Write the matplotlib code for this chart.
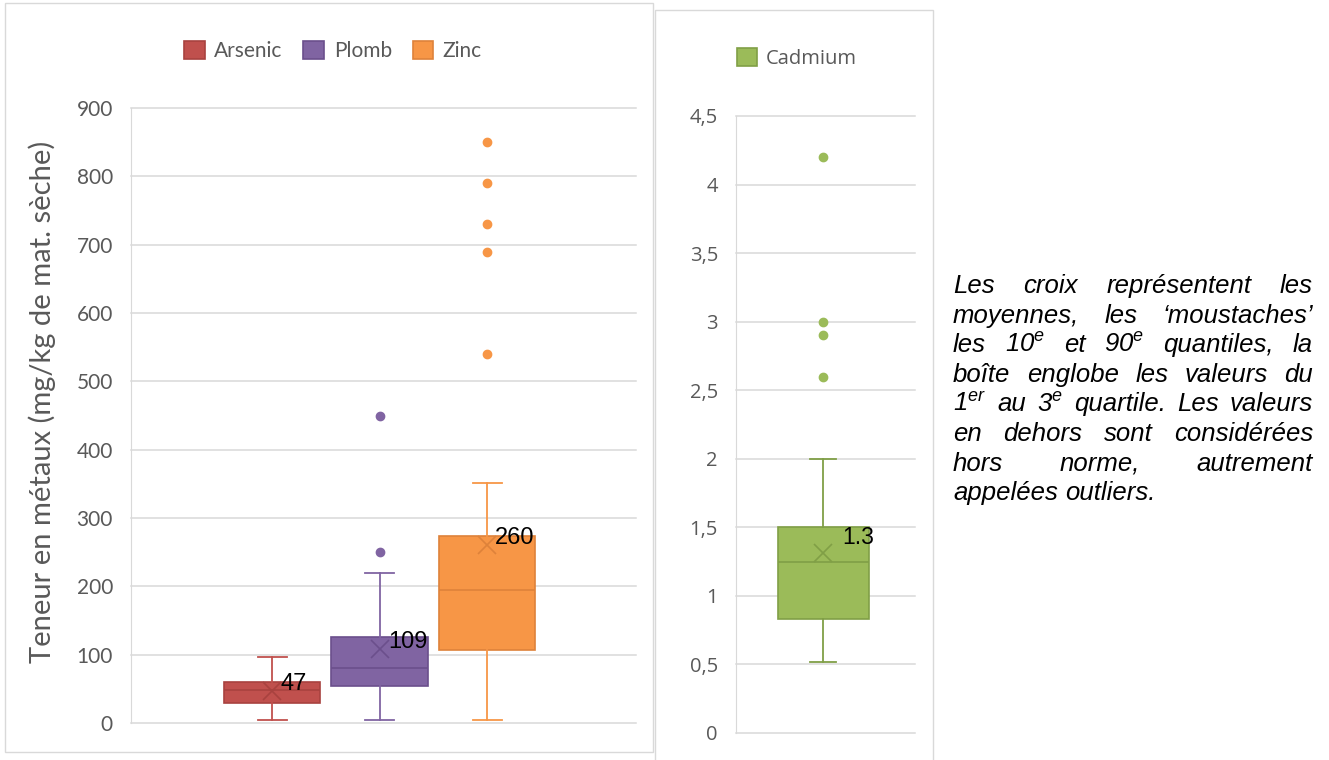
import matplotlib
matplotlib.use('Agg')
import matplotlib.pyplot as plt
from matplotlib.patches import Rectangle

plt.rcParams['mathtext.fontset'] = 'custom'
plt.rcParams['mathtext.it'] = 'Liberation Sans:italic'
plt.rcParams['mathtext.rm'] = 'Liberation Sans:italic'

# left chart: Arsenic, Plomb, Zinc (mg/kg)
metals = ['Arsenic', 'Plomb', 'Zinc']
whis_lo = [4, 4, 4]
q1 = [30, 54, 107]
med = [49, 81, 195]
q3 = [60, 126, 273]
whis_hi = [96, 220, 351]
means = [47, 109, 260]
mean_labels = ['47', '109', '260']
fliers = [[], [250, 450], [540, 690, 730, 790, 850]]
fill_cols = ['#C0504D', '#8064A2', '#F79646']
edge_cols = ['#A8423F', '#6B4F8C', '#DE823A']
left_ticks = [0, 100, 200, 300, 400, 500, 600, 700, 800, 900]

# right chart: Cadmium
cd_stats = dict(whislo=0.52, q1=0.83, med=1.25, q3=1.5, whishi=2.0, mean=1.31,
                fliers=[2.6, 2.9, 3.0, 4.2])
cd_label = '1.3'
cd_fill = '#9BBB59'
cd_edge = '#809F46'
right_ticks = [0, 0.5, 1, 1.5, 2, 2.5, 3, 3.5, 4, 4.5]
right_ticklabels = ['0', '0,5', '1', '1,5', '2', '2,5', '3', '3,5', '4', '4,5']

note_lines = [
    ['Les', 'croix', 'représentent', 'les'],
    ['moyennes,', 'les', '‘moustaches’'],
    ['les', '10$^{e}$', 'et', '90$^{e}$', 'quantiles,', 'la'],
    ['boîte', 'englobe', 'les', 'valeurs', 'du'],
    ['1$^{er}$', 'au', '3$^{e}$', 'quartile.', 'Les', 'valeurs'],
    ['en', 'dehors', 'sont', 'considérées'],
    ['hors', 'norme,', 'autrement'],
    ['appelées', 'outliers.'],
]

W, H = 1329, 760
fig = plt.figure(figsize=(W / 100, H / 100), dpi=100)
grid_col = '#D9D9D9'
txt_col = '#595959'

# panel borders
fig.patches.append(Rectangle((5 / W, 1 - 752 / H), 648 / W, 749 / H, transform=fig.transFigure,
                             fill=False, edgecolor=grid_col, lw=1))
fig.patches.append(Rectangle((655 / W, 1 - 775 / H), 278 / W, 765 / H, transform=fig.transFigure,
                             fill=False, edgecolor=grid_col, lw=1))


def style_axis(ax, font, size):
    ax.set_axisbelow(True)
    ax.grid(axis='y', color=grid_col, lw=1.1)
    for gl in ax.get_ygridlines():
        gl.set_clip_on(False)
    for s in ['top', 'right', 'bottom']:
        ax.spines[s].set_visible(False)
    ax.spines['left'].set_color(grid_col)
    ax.tick_params(axis='y', length=0, pad=13, labelcolor=txt_col, labelsize=size)
    ax.tick_params(axis='x', length=0, labelbottom=False)
    for lab in ax.get_yticklabels():
        lab.set_fontfamily(font)


# ---- left chart
ax = fig.add_axes([131 / W, 37 / H, 505 / W, 615 / H])
handles = []
for i, name in enumerate(metals):
    st = dict(label=name, whislo=whis_lo[i], q1=q1[i], med=med[i], q3=q3[i],
              whishi=whis_hi[i], mean=means[i], fliers=fliers[i])
    res = ax.bxp([st], positions=[i + 1], widths=0.9, capwidths=0.27, patch_artist=True,
                 showmeans=True, manage_ticks=False,
                 boxprops=dict(facecolor=fill_cols[i], edgecolor=edge_cols[i], lw=1.2),
                 medianprops=dict(color=edge_cols[i], lw=1.2),
                 whiskerprops=dict(color=fill_cols[i], lw=1.3),
                 capprops=dict(color=fill_cols[i], lw=1.3),
                 meanprops=dict(marker='x', markersize=13, markeredgecolor=edge_cols[i],
                                markeredgewidth=1.2),
                 flierprops=dict(marker='o', markersize=6, markerfacecolor=fill_cols[i],
                                 markeredgecolor=fill_cols[i]))
    handles.append(res['boxes'][0])
    ax.annotate(mean_labels[i], (i + 1, means[i]), xytext=(6, 5), textcoords='offset points',
                ha='left', va='center', fontsize=17, family='Liberation Sans', color='black')
ax.set_xlim(-0.312, 4.386)
ax.set_ylim(0, 900)
ax.set_yticks(left_ticks)
style_axis(ax, 'Lato', 15)
fig.legend(handles, metals, loc='center', bbox_to_anchor=(333 / W, 1 - 51 / H), ncol=3,
           frameon=False, prop=dict(family='Lato', size=15), labelcolor=txt_col,
           handlelength=1.0, handleheight=1.0, handletextpad=0.45, columnspacing=1.0)
fig.text(42 / W, 1 - 402 / H, 'Teneur en métaux (mg/kg de mat. sèche)', rotation=90,
         ha='center', va='center', family='Lato', fontsize=21, color=txt_col)

# ---- right chart
ax2 = fig.add_axes([736 / W, 27 / H, 179 / W, 617 / H])
st = dict(label='Cadmium', **cd_stats)
res = ax2.bxp([st], positions=[1], widths=0.91, capwidths=0.26, patch_artist=True,
              showmeans=True, manage_ticks=False,
              boxprops=dict(facecolor=cd_fill, edgecolor=cd_edge, lw=1.2),
              medianprops=dict(color=cd_edge, lw=1.2),
              whiskerprops=dict(color=cd_edge, lw=1.3),
              capprops=dict(color=cd_edge, lw=1.3),
              meanprops=dict(marker='x', markersize=13, markeredgecolor=cd_edge,
                             markeredgewidth=1.2),
              flierprops=dict(marker='o', markersize=6, markerfacecolor=cd_fill,
                              markeredgecolor=cd_fill))
ax2.annotate(cd_label, (1, cd_stats['mean']), xytext=(14, 11.5), textcoords='offset points',
             ha='left', va='center', fontsize=16.5, family='Liberation Sans', color='black')
ax2.set_xlim(0.13, 1.92)
ax2.set_ylim(0, 4.5)
ax2.set_yticks(right_ticks)
ax2.set_yticklabels(right_ticklabels)
style_axis(ax2, 'Open Sans', 14.5)
fig.legend([res['boxes'][0]], ['Cadmium'], loc='center', bbox_to_anchor=(797 / W, 1 - 58.5 / H),
           frameon=False, prop=dict(family='Open Sans', size=14.5), labelcolor=txt_col,
           handlelength=1.0, handleheight=1.0, handletextpad=0.45)

# ---- justified note on the right
x_left, x_right = 953, 1313
renderer = fig.canvas.get_renderer()
for li, words in enumerate(note_lines):
    y = 1 - (293 + li * 29.6) / H
    texts = [fig.text(0, y, w, fontsize=18.5, family='Liberation Sans', style='italic',
                      va='baseline', ha='left', color='black') for w in words]
    widths = [t.get_window_extent(renderer=renderer).width for t in texts]
    if li < len(note_lines) - 1 and len(words) > 1:
        gap = (x_right - x_left - sum(widths)) / (len(words) - 1)
    else:
        gap = 0.28 * 18.5 * 100 / 72
    x = x_left
    for t, w in zip(texts, widths):
        t.set_x(x / W)
        x += w + gap

fig.savefig('out.png', dpi=100)
